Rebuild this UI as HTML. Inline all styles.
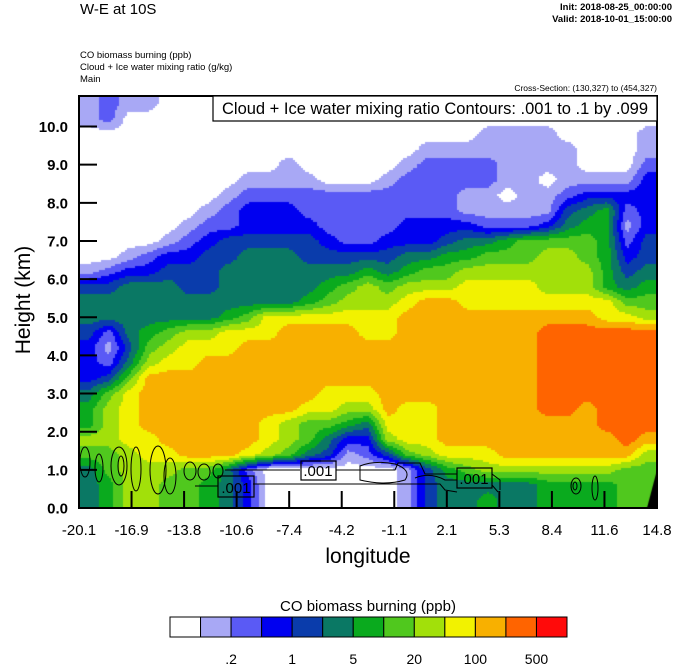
<!DOCTYPE html>
<html><head><meta charset="utf-8">
<style>
html,body{margin:0;padding:0;background:#fff;}
#root{position:relative;width:674px;height:667px;overflow:hidden;font-family:"Liberation Sans",sans-serif;}
svg text{font-family:"Liberation Sans",sans-serif;}
</style></head>
<body>
<div id="root">
<canvas id="field" width="578" height="412" style="position:absolute;left:79px;top:96px;"></canvas>
<svg id="ov" width="674" height="667" style="position:absolute;left:0;top:0;">
  <text x="80" y="14" font-size="15">W-E at 10S</text>
  <text x="672" y="10" font-size="9.5" text-anchor="end" font-weight="bold">Init: 2018-08-25_00:00:00</text>
  <text x="672" y="22" font-size="9.5" text-anchor="end" font-weight="bold">Valid: 2018-10-01_15:00:00</text>
  <text x="80" y="58" font-size="9.5">CO biomass burning   (ppb)</text>
  <text x="80" y="70" font-size="9.5">Cloud + Ice water mixing ratio   (g/kg)</text>
  <text x="80" y="82" font-size="9.5">Main</text>
  <text x="657" y="91" font-size="8.5" text-anchor="end">Cross-Section: (130,327) to (454,327)</text>
  <g id="contours" fill="none" stroke="#000" stroke-width="1"></g>
  <g id="axes"></g>
  <rect x="213" y="96" width="444" height="25" fill="#fff" stroke="#000" stroke-width="1.2"/>
  <text x="435" y="114" font-size="16.5" text-anchor="middle">Cloud + Ice water mixing ratio Contours: .001 to .1 by .099</text>
  <text transform="translate(30,300) rotate(-90)" font-size="21" text-anchor="middle">Height (km)</text>
  <text x="368" y="563" font-size="21" text-anchor="middle">longitude</text>
  <text x="368" y="611" font-size="15" text-anchor="middle">CO biomass burning  (ppb)</text>
  <g id="cbar"></g>
</svg>
</div>
<script>
const levelColors=["#ffffff","#a8a8f5","#5a5af5","#0000f0","#0a3cab","#0a7864","#0aaa1e","#50c81e","#a2e00a","#f2f200","#f8b000","#ff6400","#ff0a0a"];
const cbarLabels=[".2","1","5","20","100","500"];
const cbarLabelSlots=[2,4,6,8,10,12];
const yTicks=[0,1,2,3,4,5,6,7,8,9,10];
const xTickLabels=["-20.1","-16.9","-13.8","-10.6","-7.4","-4.2","-1.1","2.1","5.3","8.4","11.6","14.8"];
const rowHeights=[10.6,10.2,9.8,9.4,9.0,8.6,8.2,7.8,7.4,7.0,6.6,6.2,5.8,5.4,5.0,4.6,4.2,3.8,3.4,3.0,2.6,2.2,1.8,1.4,1.0,0.6,0.2];
const fieldLevels=[
[1,2,1,1,0,0,0,0,0,0,0,0,0,0,0,0,0,0,0,0,0,0,0,0,0,0,0,0,1],
[1,2,0,0,0,0,0,0,0,0,0,0,0,0,0,0,0,0,0,0,0,0,0,0,0,0,0,0,0],
[0,0,0,0,0,0,0,0,0,0,0,0,0,0,0,0,0,0,0,0,1,1,1,1,0,0,0,0,1],
[0,0,0,0,0,0,0,0,0,0,0,0,0,0,0,0,0,1,1,1,1,1,1,1,1,0,0,0,1],
[0,0,0,0,0,0,0,0,0,0,1,0,0,0,0,0,1,2,2,2,2,1,1,1,1,0,0,0,2],
[0,0,0,0,0,0,0,0,1,1,1,1,0,0,0,1,2,2,2,2,2,1,1,0,1,1,1,1,3],
[0,0,0,0,0,0,0,1,2,2,2,2,2,2,2,2,2,2,2,1,1,0,1,1,2,3,3,3,3],
[0,0,0,0,0,0,1,2,3,3,3,2,2,2,2,2,2,2,2,1,1,1,1,1,4,5,6,2,3],
[0,0,0,0,0,1,2,2,3,3,3,3,2,2,2,2,3,3,3,3,2,2,2,3,5,6,6,1,3],
[0,0,0,0,1,2,3,4,4,4,4,4,3,2,2,3,3,3,4,5,5,6,7,7,7,7,6,2,4],
[0,0,1,2,3,3,4,4,5,5,5,4,4,4,4,4,5,5,6,6,7,7,7,8,8,7,6,3,4],
[1,2,3,3,4,4,4,5,5,5,5,5,5,5,6,5,6,7,7,8,8,8,8,8,8,8,6,4,5],
[4,4,5,5,5,4,4,5,5,5,5,5,6,7,8,7,8,8,8,9,9,9,9,8,8,8,6,5,6],
[5,5,5,5,5,5,5,5,5,5,5,6,7,8,8,8,9,10,10,9,9,9,9,9,9,9,9,7,7],
[5,5,5,5,5,5,5,6,7,9,9,9,9,9,9,9,10,10,10,10,10,10,10,10,10,10,9,9,8],
[4,2,5,6,7,8,8,9,9,9,10,10,10,10,9,9,10,10,10,10,10,10,10,11,11,11,11,11,11],
[3,1,4,7,8,9,9,9,10,10,10,10,10,10,10,10,10,10,10,10,10,10,10,11,11,11,11,11,11],
[3,2,5,8,9,9,10,10,10,10,10,10,10,10,10,10,10,10,10,10,10,10,10,11,11,11,11,11,11],
[3,4,7,10,10,10,10,10,10,10,10,10,10,10,10,10,10,10,10,10,10,10,10,11,11,11,11,11,11],
[5,7,9,10,10,10,10,10,10,10,10,10,9,9,9,10,10,10,10,10,10,10,10,11,11,11,11,11,11],
[6,8,9,10,10,10,10,10,10,10,10,9,9,8,8,10,9,9,10,10,10,10,10,11,11,10,11,11,11],
[6,8,9,10,10,10,10,10,10,9,8,7,7,6,5,9,9,9,10,10,10,10,10,10,10,10,11,11,11],
[8,8,9,9,10,10,10,10,10,9,8,7,5,3,3,8,9,9,10,10,10,10,10,10,10,10,10,11,10],
[7,7,8,9,9,10,10,10,9,8,7,5,4,1,2,4,7,8,9,9,9,10,10,10,10,10,10,10,8],
[5,7,8,8,8,7,7,5,2,0,0,0,0,0,0,0,1,4,6,7,8,8,8,8,8,8,8,7,7],
[5,6,8,8,7,7,6,5,3,0,0,0,0,0,0,0,1,4,5,5,5,5,5,6,6,6,6,7,7],
[5,6,8,8,7,7,6,5,3,0,0,0,0,0,0,0,1,4,5,5,6,5,5,6,6,6,6,7,7]
];
const xMin=-20.1,xMax=14.8,yMax=10.8;
const PL=79,PT=96,PW=578,PH=412;
function xScale(lon){return PL+(lon-xMin)/(xMax-xMin)*PW;}
function yScale(km){return PT+PH-(km/yMax)*PH;}
const NS="http://www.w3.org/2000/svg";
function mk(tag,attrs,parent){const e=document.createElementNS(NS,tag);for(const k in attrs)e.setAttribute(k,attrs[k]);parent.appendChild(e);return e;}

// filled field
(function(){
  const cv=document.getElementById('field');const ctx=cv.getContext('2d');
  const nC=fieldLevels[0].length,nR=fieldLevels.length;
  const colW=PW/nC;
  function val(px,py){
    let fc=px/colW-0.5;
    const km=yMax*(1-py/PH);
    let fr=(rowHeights[0]-km)/(rowHeights[0]-rowHeights[1]);
    fc=Math.max(0,Math.min(nC-1,fc));fr=Math.max(0,Math.min(nR-1,fr));
    const c0=Math.floor(fc),r0=Math.floor(fr);const c1=Math.min(nC-1,c0+1),r1=Math.min(nR-1,r0+1);
    const tx=fc-c0,ty=fr-r0;
    const a=fieldLevels[r0][c0]*(1-tx)+fieldLevels[r0][c1]*tx;
    const b=fieldLevels[r1][c0]*(1-tx)+fieldLevels[r1][c1]*tx;
    return a*(1-ty)+b*ty;
  }
  const s=2;
  for(let y=0;y<PH;y+=s){for(let x=0;x<PW;x+=s){
    const v=Math.round(val(x+s/2,y+s/2));
    ctx.fillStyle=levelColors[Math.max(0,Math.min(12,v))];ctx.fillRect(x,y,s,s);
  }}
  ctx.fillStyle="#000";ctx.beginPath();ctx.moveTo(PW-10,PH);ctx.lineTo(PW,PH-38);ctx.lineTo(PW,PH);ctx.closePath();ctx.fill();
})();

// contours (decorative cloud contours)
(function(){
  const g=document.getElementById('contours');
  const ells=[[85,462,5,15],[99,468,4,14],[119,466,8,19],[121,466,3,10],[136,469,5,22],[158,470,8,24],[170,476,6,18],[190,471,6,9],[204,472,6,8],[218,471,5,7],[576,486,5,8],[575,486,2,4],[595,488,3,12]];
  ells.forEach(e=>{const el=mk('ellipse',{cx:e[0],cy:e[1],rx:e[2],ry:e[3]},g);

});
  const paths=["M225,470 L300,470 M336,470 L395,470 L398,463 L420,463 L425,474 L457,474","M195,486 L218,486 M253,484 L440,484 L445,490 L457,492 M492,485 L498,492","M360,466 Q375,460 395,464 Q412,470 405,480 Q385,486 360,480 Z","M415,478 Q430,472 445,480 L457,480","M492,474 L500,480 L500,490"];
  paths.forEach(d=>{const el=mk('path',{d:d},g);

});
  const boxes=[[218,476,36,21,236],[301,461,35,19,318],[457,468,35,20,474]];
  boxes.forEach(b=>{const r=mk('rect',{x:b[0],y:b[1],width:b[2],height:b[3],fill:"none",stroke:"#000","stroke-width":1.2},g);


const t=mk('text',{x:b[4],y:b[1]+b[3]-4,"font-size":15,"text-anchor":"middle",fill:"#000",stroke:"none"},g);t.textContent=".001";

});
})();

// axes
(function(){
  const g=document.getElementById('axes');
  const fr=mk('rect',{x:PL,y:PT,width:PW,height:PH,fill:"none",stroke:"#000","stroke-width":2},g);
  
  
  yTicks.forEach(v=>{const y=yScale(v);
    const l=mk('line',{x1:PL,x2:PL+18,y1:y,y2:y,stroke:"#000","stroke-width":2},g);
    
    
    const t=mk('text',{x:68,y:y+5.5,"font-size":15,"font-weight":"bold","text-anchor":"end"},g);t.textContent=v.toFixed(1);
    
    });
  const n=xTickLabels.length;
  xTickLabels.forEach((lab,i)=>{const x=PL+i*PW/(n-1);
    const l=mk('line',{x1:x,x2:x,y1:PT+PH,y2:PT+PH-17,stroke:"#000","stroke-width":2},g);
    
    
    const t=mk('text',{x:x,y:535,"font-size":15,"text-anchor":"middle"},g);t.textContent=lab;
    
    });
})();

// colorbar
(function(){
  const g=document.getElementById('cbar');
  const x0=170,x1=567,y0=617,h=20,n=levelColors.length,w=(x1-x0)/n;
  levelColors.forEach((c,i)=>{const r=mk('rect',{x:x0+i*w,y:y0,width:w,height:h,fill:c,stroke:"#000","stroke-width":1},g);
    
    });
  cbarLabels.forEach((lab,i)=>{const t=mk('text',{x:x0+cbarLabelSlots[i]*w,y:664,"font-size":14,"text-anchor":"middle"},g);t.textContent=lab;
    
    });
})();
</script>
</body></html>
